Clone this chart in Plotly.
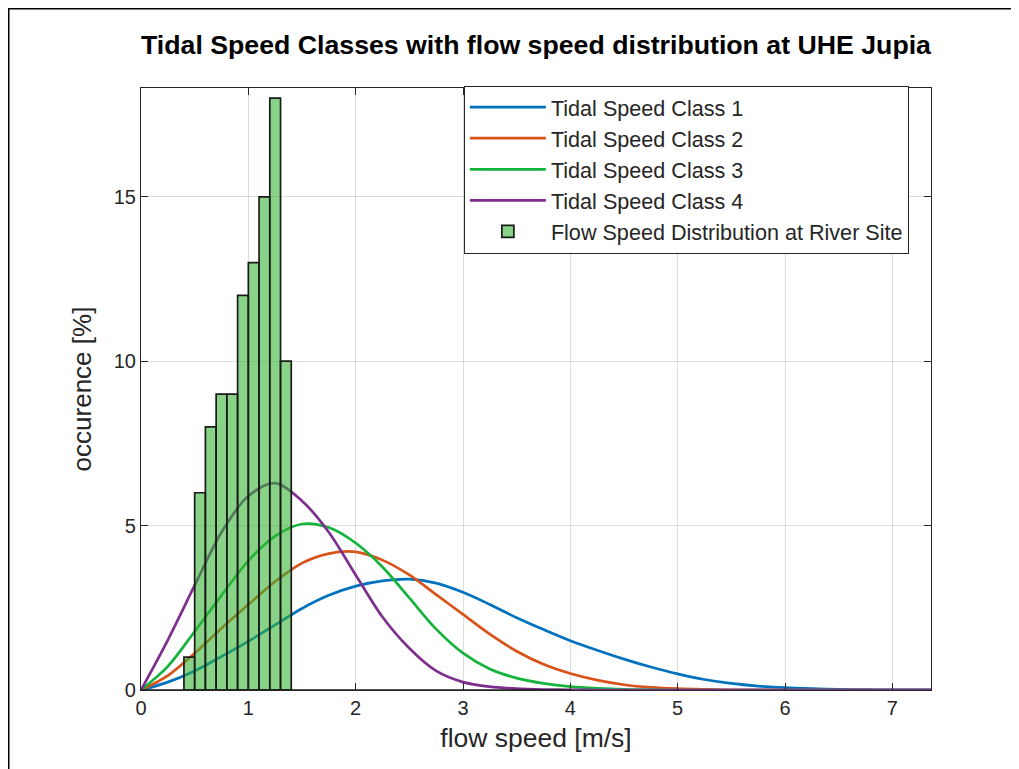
import plotly.graph_objects as go

# ---------------- data ----------------
speed = [0.0, 0.25, 0.5, 0.75, 1.0, 1.25, 1.5, 1.75, 2.0, 2.25, 2.5, 2.75,
         3.0, 3.25, 3.5, 3.75, 4.0, 4.25, 4.5, 4.75, 5.0, 5.25, 5.5, 5.75,
         6.0, 6.25, 6.5, 6.75, 7.0, 7.25, 7.36]

class1 = [0.0, 0.24, 0.58, 1.02, 1.48, 1.98, 2.48, 2.88, 3.16, 3.32, 3.37, 3.25,
          2.97, 2.60, 2.20, 1.84, 1.50, 1.21, 0.94, 0.70, 0.49, 0.32, 0.20, 0.12,
          0.07, 0.04, 0.02, 0.01, 0.005, 0.002, 0.001]
class2 = [0.0, 0.44, 1.12, 1.88, 2.60, 3.30, 3.86, 4.15, 4.20, 3.95, 3.50, 2.90,
          2.30, 1.70, 1.18, 0.78, 0.50, 0.30, 0.16, 0.08, 0.04, 0.02, 0.008, 0.003,
          0.0, 0.0, 0.0, 0.0, 0.0, 0.0, 0.0]
class3 = [0.0, 0.72, 1.78, 2.88, 3.93, 4.68, 5.05, 4.94, 4.47, 3.74, 2.80, 1.85,
          1.12, 0.64, 0.36, 0.20, 0.10, 0.05, 0.02, 0.01, 0.0, 0.0, 0.0, 0.0,
          0.0, 0.0, 0.0, 0.0, 0.0, 0.0, 0.0]
class4 = [0.0, 1.52, 3.18, 4.80, 5.90, 6.29, 5.75, 4.80, 3.50, 2.22, 1.27, 0.58,
          0.24, 0.10, 0.04, 0.015, 0.005, 0.0, 0.0, 0.0, 0.0, 0.0, 0.0, 0.0,
          0.0, 0.0, 0.0, 0.0, 0.0, 0.0, 0.0]

class_names = ["Tidal Speed Class 1", "Tidal Speed Class 2",
               "Tidal Speed Class 3", "Tidal Speed Class 4"]
class_colors = ["#0072BD", "#D95319", "#14B43C", "#7E2F8E"]

bin_left = [0.4, 0.5, 0.6, 0.7, 0.8, 0.9, 1.0, 1.1, 1.2, 1.3]
occurrence = [1, 6, 8, 9, 9, 12, 13, 15, 18, 10]
hist_span = [0.0, 4.0]
hist_name = "Flow Speed Distribution at River Site"

x_ticks = [0, 1, 2, 3, 4, 5, 6, 7]
y_ticks = [0, 5, 10, 15]
x_range = [0, 7.36]
y_range = [0, 18.31]

# ---------------- figure ----------------
FONT = "Liberation Sans, Arial, Helvetica, sans-serif"
AX = "#262626"
W, H = 1011, 761            # page has an 8px body margin
ML, MT, PW, PH = 133, 80, 790, 602

fig = go.Figure()

for vals, name, col in zip([class1, class2, class3, class4], class_names, class_colors):
    fig.add_trace(go.Scatter(x=speed, y=vals, mode="lines", name=name,
                             line=dict(color=col, width=2.7, shape="spline", smoothing=0.9),
                             xaxis="x", yaxis="y"))

# histogram on an overlaid axis pair so it is drawn above the curves
fig.add_trace(go.Scatter(x=hist_span, y=[0, 0], mode="lines", showlegend=False,
                         line=dict(color="#1a1a1a", width=1.6),
                         xaxis="x2", yaxis="y2", hoverinfo="skip"))
fig.add_trace(go.Bar(x=bin_left, y=occurrence, name=hist_name, offset=0, width=0.1,
                     marker=dict(color="rgba(51,179,51,0.58)",
                                 line=dict(color="#1a1a1a", width=1.7)),
                     xaxis="x2", yaxis="y2"))

axis_common = dict(showline=True, linecolor=AX, linewidth=1.2, mirror="ticks",
                   ticks="inside", ticklen=7, tickcolor=AX, tickwidth=1,
                   showgrid=True, gridcolor="rgba(0,0,0,0.13)", gridwidth=1,
                   zeroline=False, tickfont=dict(family=FONT, size=20, color=AX))

fig.update_layout(
    width=W, height=H,
    margin=dict(l=ML, r=W - ML - PW, t=MT, b=H - MT - PH),
    paper_bgcolor="white", plot_bgcolor="white",
    font=dict(family=FONT, color=AX),
    title=dict(text="<b>Tidal Speed Classes with flow speed distribution at UHE Jupia</b>",
               x=0.5, xref="paper", xanchor="center", y=1 - 37 / H, yanchor="middle",
               font=dict(family=FONT, size=26.7, color="#000000")),
    xaxis=dict(range=x_range, tickvals=x_ticks,
               title=dict(text="flow speed [m/s]", font=dict(family=FONT, size=26.5, color=AX),
                          standoff=10),
               **axis_common),
    yaxis=dict(range=y_range, tickvals=y_ticks,
               title=dict(text="occurence [%]", font=dict(family=FONT, size=26, color=AX),
                          standoff=14),
               **axis_common),
    xaxis2=dict(overlaying="x", matches="x", visible=False, range=x_range),
    yaxis2=dict(overlaying="y", matches="y", visible=False, range=y_range),
    legend=dict(x=0.972, xanchor="right", y=1.004, yanchor="top",
                bgcolor="white", bordercolor=AX, borderwidth=1, itemwidth=76,
                font=dict(family=FONT, size=21.6, color=AX), tracegroupgap=0),
    shapes=[dict(type="rect", xref="paper", yref="paper",
                 x0=(0.75 - ML) / PW, x1=(1007 - ML) / PW,
                 y0=(MT + PH - 800) / PH, y1=(MT + PH - 0.75) / PH,
                 line=dict(color="black", width=1.5), fillcolor="rgba(0,0,0,0)",
                 layer="below")],
    showlegend=True,
)

fig.write_html("out.html")
